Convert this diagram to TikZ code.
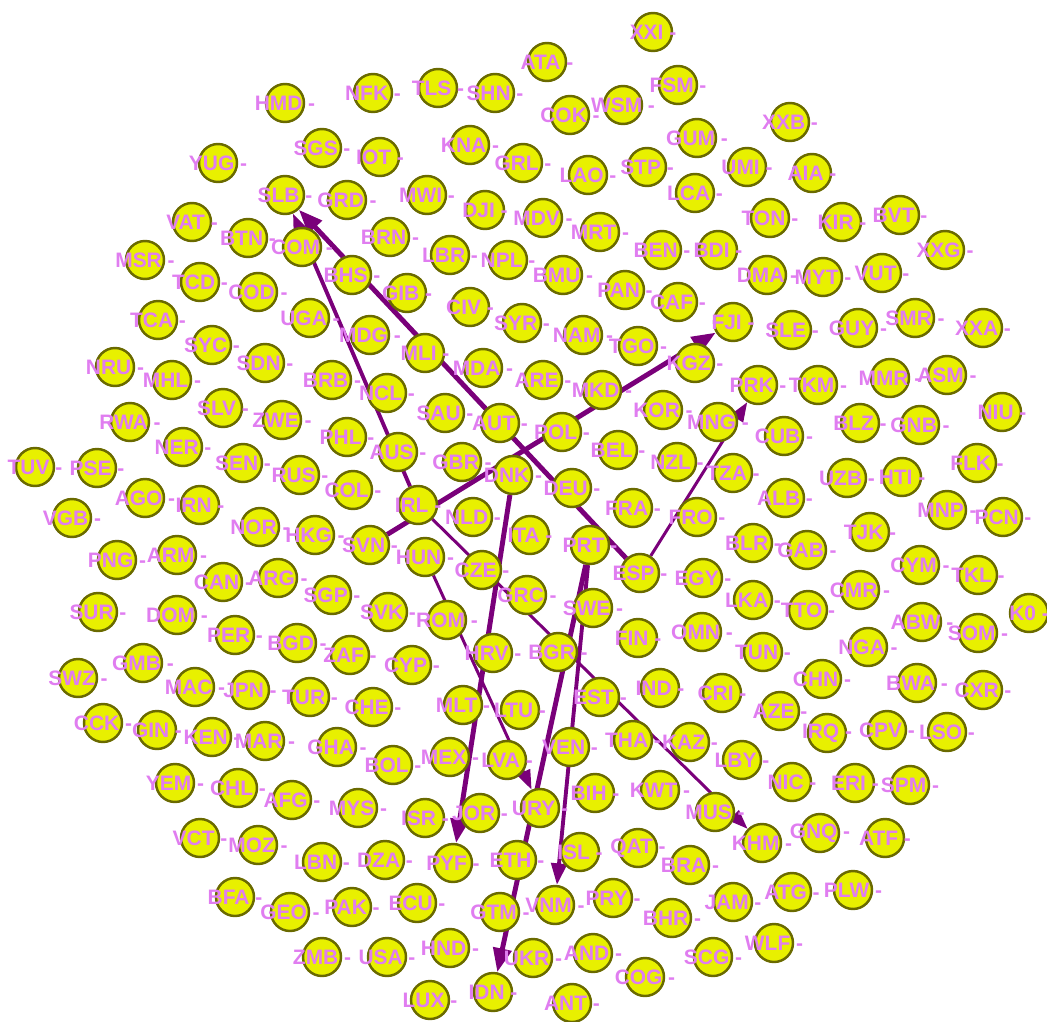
\documentclass[tikz,border=0pt]{standalone}
\usepackage{fontspec}
\setmainfont{Liberation Sans}
\usetikzlibrary{arrows.meta}
\definecolor{blob}{HTML}{E8F000}
\definecolor{rim}{HTML}{6A6A00}
\definecolor{tagpink}{HTML}{E07DF0}
\definecolor{wire}{HTML}{7A007A}
\pgfdeclarelayer{wires}
\pgfsetlayers{wires,main}
\newcommand{\countrylist}{%
XXI/653/32, ATA/547/62, HMD/285/103, NFK/373/93, TLS/438/88, SHN/495/93,
WSM/623/105, FSM/678/85, COK/570/115, XXB/790/122, SGS/322/148, IOT/380/157,
KNA/470/145, GRL/523/163, GUM/697/138, LAO/588/175, STP/647/167, UMI/747/167,
AIA/812/173, YUG/218/163, SLB/285/195, GRD/347/200, MWI/427/195, DJI/485/210,
MDV/543/218, MRT/600/232, LCA/695/193, TON/770/218, KIR/842/222, BVT/900/215,
VAT/192/222, BTN/248/238, COM/302/247, BRN/390/237, LBR/450/255, NPL/508/260,
BMU/563/275, BEN/662/250, BDI/718/250, DMA/767/275, MYT/823/277, VUT/882/273,
XXG/945/250, MSR/145/260, TCD/200/282, COD/258/292, BHS/352/275, GIB/407/293,
CIV/470/307, SYR/522/323, PAN/625/290, CAF/678/302, FJI/733/322, SLE/792/330,
GUY/858/328, SMR/915/318, XXA/983/328, TCA/158/320, UGA/310/318, MDG/370/335,
NAM/583/335, TGO/638/346, SYC/212/345, SDN/265/363, BRB/332/380, NCL/387/393,
MLI/425/353, MDA/483/368, ARE/543/380, MKD/602/390, KGZ/695/363, PRK/758/385,
TKM/818/385, MMR/890/378, ASM/947/375, NRU/115/367, MHL/172/380, SLV/223/408,
ZWE/282/420, SAU/445/413, AUT/500/423, POL/562/432, KOR/663/410, MNG/718/422,
CUB/784/436, BLZ/860/423, GNB/920/425, NIU/1002/412, RWA/130/422, NER/183/447,
SEN/243/463, PHL/347/437, AUS/398/452, GBR/462/462, DNK/513/475, BEL/618/450,
NZL/677/462, TZA/733/473, FLK/977/463, TUV/35/467, PSE/97/468, RUS/300/475,
COL/353/490, IRL/418/505, DEU/572/488, FRA/633/508, FRO/697/517, ALB/785/498,
UZB/847/478, HTI/902/477, MNP/947/510, PCN/1003/517, AGO/145/498, IRN/200/505,
VGB/72/518, NOR/260/527, HKG/315/535, SVN/370/545, NLD/473/517, ITA/530/535,
PRT/590/545, BLR/753/543, GAB/807/550, TJK/870/532, CYM/920/565, TKL/978/575,
PNG/117/560, ARM/177/555, CAN/223/582, ARG/278/578, HUN/425/557, CZE/482/570,
ESP/640/573, EGY/703/578, LKA/753/600, CMR/860/590, SUR/98/612, DOM/177/615,
SGP/332/595, SVK/388/612, ROM/447/620, GRC/527/595, SWE/593/608, TTO/808/610,
ABW/922/622, SOM/978/633, K0/1029/613, PER/235/635, BGD/297/643, ZAF/350/655,
CYP/412/665, HRV/493/653, BGR/558/652, FIN/638/638, OMN/702/632, TUN/763/652,
NGA/868/647, GMB/143/663, SWZ/78/678, MAC/195/687, JPN/250/690, TUR/310/697,
CHE/373/707, MLT/463/705, LTU/520/710, EST/600/697, IND/660/688, CRI/722/693,
AZE/780/711, CHN/822/679, BWA/917/683, CXR/983/690, CCK/103/723, GIN/157/730,
KEN/212/737, MAR/265/741, GHA/337/747, BOL/393/765, MEX/450/757, LVA/507/760,
VEN/570/747, THA/633/740, KAZ/690/742, LBY/742/760, IRQ/827/733, CPV/887/730,
LSO/947/732, YEM/175/783, CHL/238/788, AFG/292/800, MYS/358/808, ISR/425/818,
JOR/480/813, URY/540/808, BIH/595/793, KWT/660/790, MUS/715/812, NIC/792/782,
ERI/855/783, SPM/910/785, VCT/200/838, MOZ/258/845, LBN/322/862, DZA/385/860,
PYF/453/863, ETH/517/860, ISL/580/852, QAT/638/848, BRA/690/865, KHM/762/843,
GNQ/820/833, ATF/885/838, BFA/235/897, GEO/290/912, PAK/352/907, ECU/417/903,
GTM/500/912, VNM/555/905, PRY/613/898, BHR/672/918, JAM/733/902, ATG/792/892,
PLW/853/890, ZMB/322/957, USA/387/957, HND/450/948, UKR/533/958, AND/593/953,
COG/645/977, SCG/713/957, WLF/774/943, LUX/430/1000, IDN/493/992, ANT/572/1003}

\begin{document}
\begin{tikzpicture}[x=0.02cm, y=-0.02cm,
  country/.style={circle, draw=rim, fill=blob, line width=1.4pt,
    minimum size=0.76cm, inner sep=0pt},
  tag/.style={text=tagpink, inner sep=0pt,
    font=\bfseries\fontsize{11.9}{12}\selectfont},
  heavy/.style={draw=wire, line width=2.8pt, -{Triangle[length=4.8mm, width=3.6mm]}},
  medium/.style={draw=wire, line width=2.2pt, -{Triangle[length=4.3mm, width=3.1mm]}},
  light/.style={draw=wire, line width=1.7pt, -{Triangle[length=3.9mm, width=2.8mm]}}
]
\useasboundingbox (0,0) rectangle (1047,1021);
% circles
\foreach \cty/\px/\py in \countrylist
  \node[country] (\cty) at (\px,\py) {};
% links, kept under the circles
\begin{pgfonlayer}{wires}
\draw[heavy] (ESP) -- (SLB);
\draw[medium] (IRL) -- (SLB);
\draw[light] (HUN) -- (URY);
\draw[light] (IRL) -- (KHM);
\draw[heavy] (SVN) -- (FJI);
\draw[heavy] (DNK) -- (PYF);
\draw[heavy] (PRT) -- (IDN);
\draw[medium] (PRT) -- (VNM);
\draw[light] (ESP) -- (PRK);
\end{pgfonlayer}
% names on top of everything
\foreach \cty/\px/\py in \countrylist
  \node[tag] at (\cty.center) {\cty{} -};
\end{tikzpicture}
\end{document}
